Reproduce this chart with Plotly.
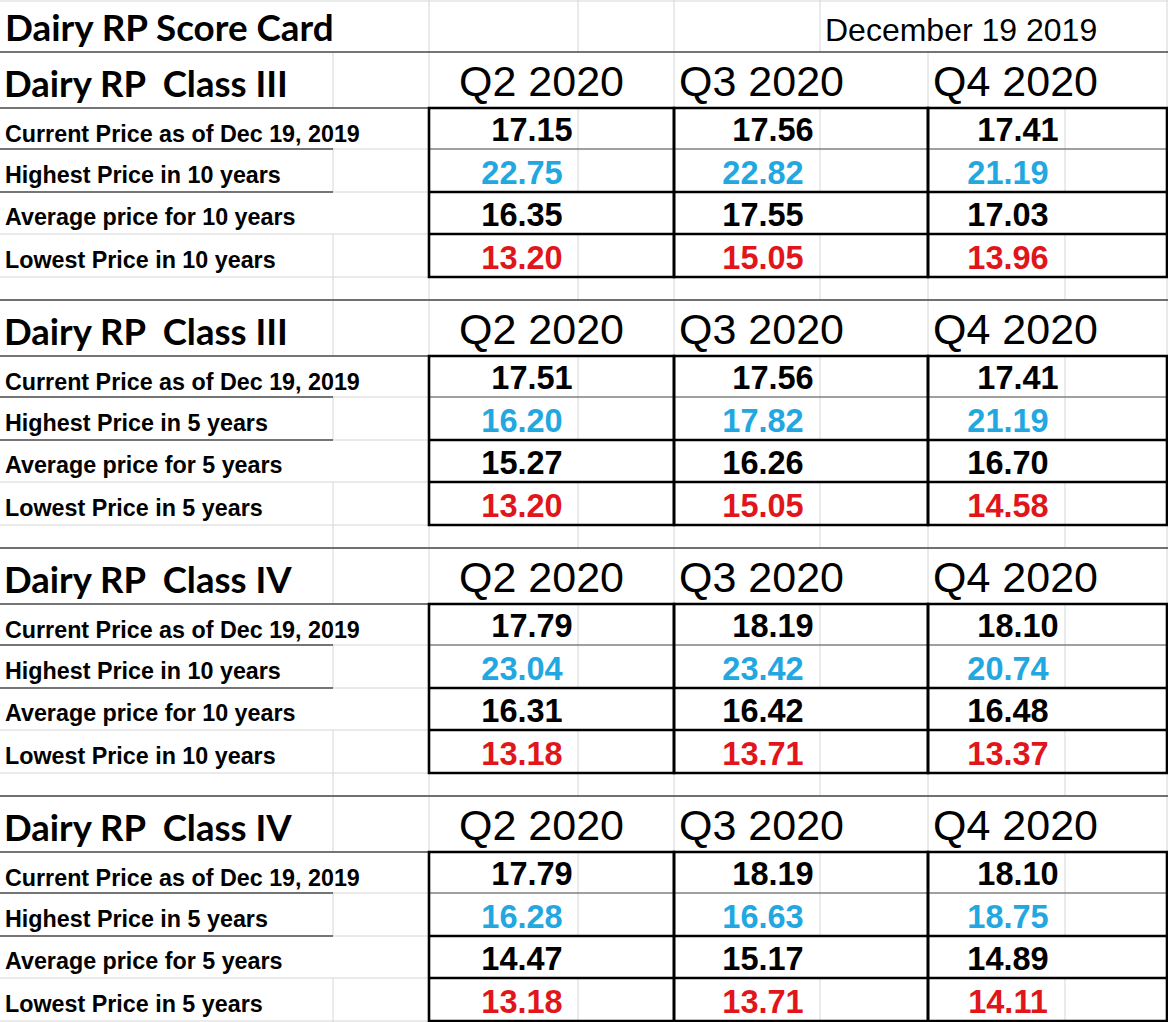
import plotly.graph_objects as go

title_text = "Dairy RP Score Card"
date_text = "December 19 2019"
quarters = ["Q2 2020", "Q3 2020", "Q4 2020"]
section_titles = ["Dairy RP  Class III", "Dairy RP  Class III",
                  "Dairy RP  Class IV", "Dairy RP  Class IV"]

labels_10 = ["Current Price as of Dec 19, 2019", "Highest Price in 10 years",
             "Average price for 10 years", "Lowest Price in 10 years"]
labels_5 = ["Current Price as of Dec 19, 2019", "Highest Price in 5 years",
            "Average price for 5 years", "Lowest Price in 5 years"]
section_labels = [labels_10, labels_5, labels_10, labels_5]

current_price = [[17.15, 17.56, 17.41], [17.51, 17.56, 17.41],
                 [17.79, 18.19, 18.10], [17.79, 18.19, 18.10]]
highest_price = [[22.75, 22.82, 21.19], [16.20, 17.82, 21.19],
                 [23.04, 23.42, 20.74], [16.28, 16.63, 18.75]]
average_price = [[16.35, 17.55, 17.03], [15.27, 16.26, 16.70],
                 [16.31, 16.42, 16.48], [14.47, 15.17, 14.89]]
lowest_price = [[13.20, 15.05, 13.96], [13.20, 15.05, 14.58],
                [13.18, 13.71, 13.37], [13.18, 13.71, 14.11]]

# ---- sheet geometry (pixels) ----
W, H = 1168, 1022
col_edges = [0, 333, 429, 578, 674, 820, 928, 1065, 1167]
box_x = [(429, 674), (674, 928), (928, 1167)]
inner_x = [578, 820, 1065]
row_off = [0, 56, 97, 140, 182, 225, 248]   # inside one section
sec_h = 248
first_top = 52

GRID = "#d6d6d6"
BLUE = "#22a7e0"
RED = "#e0161b"
BLACK = "#000000"
ARIAL = "Liberation Sans"
CALIBRI = "Lato"

shapes = []


def seg(x0, y0, x1, y1, color=GRID, width=1):
    shapes.append(dict(type="line", x0=x0, y0=y0, x1=x1, y1=y1, xref="x", yref="y",
                       line=dict(color=color, width=width), layer="below"))


# title row
seg(0, 1, W, 1)
for x in [429, 578, 674, 820, 1167]:
    seg(x, 0, x, first_top)

for s in range(4):
    T = first_top + s * sec_h
    ys = [T + o for o in row_off]
    # light horizontals
    for y in ys:
        seg(0, y, W, y)
    # header row verticals (others hidden by overflowing text)
    for x in [333, 429, 674, 928, 1167]:
        seg(x, ys[0], x, ys[1])
    # data rows
    for r in range(4):
        y0, y1 = ys[r + 1], ys[r + 2]
        if r in (1, 3):
            seg(333, y0, 333, y1)
        if r != 2:
            for x in inner_x:
                seg(x, y0, x, y1)
    # blank row
    for x in col_edges[1:]:
        seg(x, ys[5], x, ys[6])
    # dark lines
    seg(0, ys[0], W, ys[0], BLACK, 1.2)
    seg(0, ys[1], W, ys[1], BLACK, 1.2)
    seg(0, ys[2], 333, ys[2], BLACK, 1.2)
    seg(0, ys[3], 333, ys[3], BLACK, 1.2)
    for x0, x1 in box_x:
        seg(x0, ys[2], x1, ys[2], "#555555", 1)
        seg(x0, ys[3], x1, ys[3], BLACK, 2.6)
        seg(x0, ys[4], x1, ys[4], BLACK, 2.6)
        shapes.append(dict(type="rect", x0=x0, y0=ys[1], x1=x1, y1=ys[5], xref="x", yref="y",
                           line=dict(color=BLACK, width=2.6), layer="below"))

fig = go.Figure()

# title and date
fig.add_trace(go.Scatter(x=[5], y=[32], mode="text", text=[title_text],
                         textposition="middle right", cliponaxis=False,
                         textfont=dict(family=CALIBRI, size=36.8, color=BLACK, weight="bold")))
fig.add_trace(go.Scatter(x=[825], y=[32.7], mode="text", text=[date_text],
                         textposition="middle right", cliponaxis=False,
                         textfont=dict(family=ARIAL, size=32, color=BLACK)))

quarter_x = [459, 679, 933]
value_cx = [522, 763, 1008]
current_shift = 10

for s in range(4):
    T = first_top + s * sec_h
    ys = [T + o for o in row_off]
    fig.add_trace(go.Scatter(x=[4], y=[T + 35.5], mode="text", text=[section_titles[s]],
                             textposition="middle right", cliponaxis=False,
                             textfont=dict(family=CALIBRI, size=36.5, color=BLACK, weight="bold")))
    fig.add_trace(go.Scatter(x=quarter_x, y=[T + 33.5] * 3, mode="text", text=quarters,
                             textposition="middle right", cliponaxis=False,
                             textfont=dict(family=ARIAL, size=43, color=BLACK)))
    label_y = [ys[2] - 13] + [ys[r + 2] - 14.5 for r in range(1, 4)]
    fig.add_trace(go.Scatter(x=[5] * 4, y=label_y, mode="text",
                             text=section_labels[s], textposition="middle right", cliponaxis=False,
                             textfont=dict(family=ARIAL, size=23.3, color=BLACK, weight="bold")))
    rows = [(current_price[s], BLACK, current_shift), (highest_price[s], BLUE, 0),
            (average_price[s], BLACK, 0), (lowest_price[s], RED, 0)]
    for r, (vals, color, shift) in enumerate(rows):
        fig.add_trace(go.Scatter(x=[cx + shift for cx in value_cx], y=[ys[r + 2] - 16] * 3,
                                 mode="text", text=[f"{v:.2f}" for v in vals],
                                 textposition="middle center", cliponaxis=False,
                                 textfont=dict(family=ARIAL, size=32.5, color=color, weight="bold")))

fig.update_layout(
    width=W, height=H, margin=dict(l=0, r=0, t=0, b=0),
    paper_bgcolor="white", plot_bgcolor="white", showlegend=False,
    xaxis=dict(range=[0, W], visible=False, fixedrange=True),
    yaxis=dict(range=[H, 0], visible=False, fixedrange=True),
    shapes=shapes, hovermode=False,
)

# the page's default 8px body margin would push the sheet off its grid
fig.write_html("out.html", config={"displayModeBar": False},
               post_script="document.body.style.margin = '0';")
